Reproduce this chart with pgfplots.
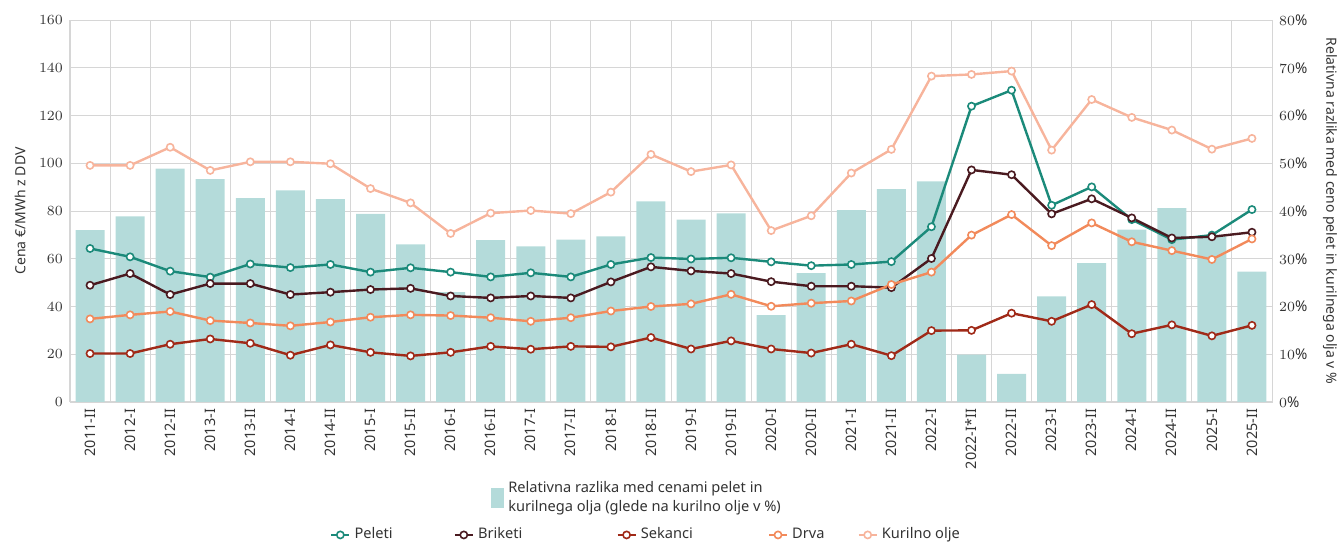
\documentclass[border=0pt]{standalone}
\usepackage{pgfplots}
\pgfplotsset{compat=1.18}
\usepackage{pgfplotstable}
\usepackage{fontspec}
\setmainfont{Noto Sans}
\definecolor{peleti}{HTML}{1B8A7A}
\definecolor{briketi}{HTML}{4A1A20}
\definecolor{sekanci}{HTML}{A02A18}
\definecolor{drva}{HTML}{F28A5B}
\definecolor{kurilno}{HTML}{F7B49C}
\definecolor{barc}{HTML}{B4DBDA}
\definecolor{gridc}{HTML}{D6D6D6}
\definecolor{txt}{HTML}{333333}

\pgfplotstableread{
i label pel bri sek drv kur bar
0 2011-II 64.3 48.9 20.3 34.8 99.1 36.0
1 2012-I 60.8 53.8 20.3 36.5 99.1 38.9
2 2012-II 54.8 45.0 24.2 37.9 106.7 48.9
3 2013-I 52.3 49.6 26.4 34.1 97.0 46.7
4 2013-II 57.8 49.6 24.6 33.1 100.6 42.7
5 2014-I 56.3 45.0 19.6 31.9 100.6 44.3
6 2014-II 57.6 46.0 23.9 33.5 99.8 42.5
7 2015-I 54.4 47.1 20.8 35.5 89.4 39.4
8 2015-II 56.2 47.6 19.3 36.5 83.4 33.0
9 2016-I 54.4 44.4 20.8 36.2 70.6 23.0
10 2016-II 52.4 43.6 23.3 35.3 79.1 33.9
11 2017-I 54.1 44.4 22.1 33.8 80.2 32.6
12 2017-II 52.4 43.6 23.3 35.3 78.9 34.0
13 2018-I 57.6 50.3 23.1 38.1 87.9 34.7
14 2018-II 60.5 56.6 27.0 40.0 103.7 42.0
15 2019-I 59.9 54.9 22.2 41.1 96.5 38.2
16 2019-II 60.4 53.8 25.6 45.1 99.3 39.5
17 2020-I 58.7 50.4 22.2 40.1 71.8 18.2
18 2020-II 57.1 48.5 20.5 41.4 78.0 27.0
19 2021-I 57.6 48.5 24.2 42.3 95.9 40.2
20 2021-II 58.8 47.9 19.4 49.2 105.8 44.6
21 2022-I 73.4 60.1 29.9 54.4 136.5 46.2
22 2022-I*II 123.9 97.2 30.0 69.9 137.2 9.9
23 2022-II 130.6 95.2 37.2 78.5 138.6 5.9
24 2023-I 82.4 78.8 33.8 65.5 105.5 22.1
25 2023-II 90.1 85.1 40.8 75.0 126.7 29.1
26 2024-I 76.4 77.1 28.6 67.1 119.2 36.1
27 2024-II 68.0 68.7 32.3 63.4 113.9 40.6
28 2025-I 69.9 69.2 27.7 59.7 105.9 34.7
29 2025-II 80.6 71.1 32.1 68.3 110.4 27.3
}\data

\pgfplotsset{
  linestyle/.style={line width=1.2pt, mark=*, mark size=1.8pt,
    mark options={fill=white, line width=0.8pt, solid}},
}

\begin{document}
\begin{tikzpicture}[font=\fontsize{7}{8.6}\selectfont, text=txt]
\useasboundingbox (-35pt,-71.5pt) rectangle (635pt,201pt);
% bars, right axis
\begin{axis}[
  scale only axis, width=601pt, height=191pt,
  at={(0,0)}, anchor=south west,
  xmin=-0.5, xmax=29.5, ymin=0, ymax=80,
  axis line style={draw=gridc},
  xtick={0,...,29},
  xticklabels from table={\data}{label},
  xticklabel style={rotate=90, anchor=east, font=\fontsize{7.2}{8}\selectfont},
  minor xtick={-0.5,0.5,...,29.5},
  xminorgrids, minor grid style={gridc, line width=0.5pt},
  ytick={0,10,...,80},
  yticklabel={\pgfmathprintnumber{\tick}\%},
  yticklabel pos=right,
  yticklabel style={anchor=west, font=\fontsize{7.4}{8}\selectfont},
  ymajorgrids, major grid style={gridc, line width=0.5pt},
  major tick length=0pt, minor tick length=0pt,
  xtick pos=bottom,
  ylabel={Relativna razlika med ceno pelet in kurilnega olja v \%},
  ylabel style={font=\fontsize{7.3}{8}\selectfont},
  every axis y label/.style={at={(rel axis cs:1,0.5)}, xshift=29pt, anchor=center, rotate=-90},
  legend style={at={(0.4726,-0.251)}, anchor=center, draw=none, fill=none,
    cells={align=left}, font=\fontsize{7.3}{9.6}\selectfont},
  legend image code/.code={\fill[#1] (0pt,-5pt) rectangle (6.5pt,5pt);},
]
\addplot[ybar, bar width=14.5pt, fill=barc, draw=none] table[x=i,y=bar]{\data};
\addlegendentry{Relativna razlika med cenami pelet in\\kurilnega olja (glede na kurilno olje v \%)}
\end{axis}
% lines, left axis
\begin{axis}[
  scale only axis, width=601pt, height=191pt,
  at={(0,0)}, anchor=south west,
  xmin=-0.5, xmax=29.5, ymin=0, ymax=160,
  hide x axis,
  axis y line*=left,
  axis line style={draw=none},
  ytick={0,20,...,160},
  yticklabel style={font=\fontsize{7.4}{8}\selectfont},
  major tick length=0pt,
  ylabel={Cena €/MWh z DDV},
  ylabel style={font=\fontsize{7.3}{8}\selectfont},
  every axis y label/.style={at={(rel axis cs:0,0.5)}, xshift=-25pt, anchor=center, rotate=90},
  legend columns=5,
  legend style={at={(0.48,-0.348)}, anchor=center, draw=none, fill=none,
    font=\fontsize{7.3}{8}\selectfont,
    /tikz/column 2/.style={column sep=28.5pt},
    /tikz/column 4/.style={column sep=45pt},
    /tikz/column 6/.style={column sep=35.5pt},
    /tikz/column 8/.style={column sep=14.5pt}},
  legend image code/.code={\draw[mark repeat=2, mark phase=2, #1] plot coordinates {(0pt,0pt) (4.5pt,0pt) (9pt,0pt)};},
]
\addplot[linestyle, color=peleti] table[x=i,y=pel]{\data};
\addlegendentry{Peleti}
\addplot[linestyle, color=briketi] table[x=i,y=bri]{\data};
\addlegendentry{Briketi}
\addplot[linestyle, color=sekanci] table[x=i,y=sek]{\data};
\addlegendentry{Sekanci}
\addplot[linestyle, color=drva] table[x=i,y=drv]{\data};
\addlegendentry{Drva}
\addplot[linestyle, color=kurilno] table[x=i,y=kur]{\data};
\addlegendentry{Kurilno olje}
\end{axis}
\end{tikzpicture}
\end{document}
